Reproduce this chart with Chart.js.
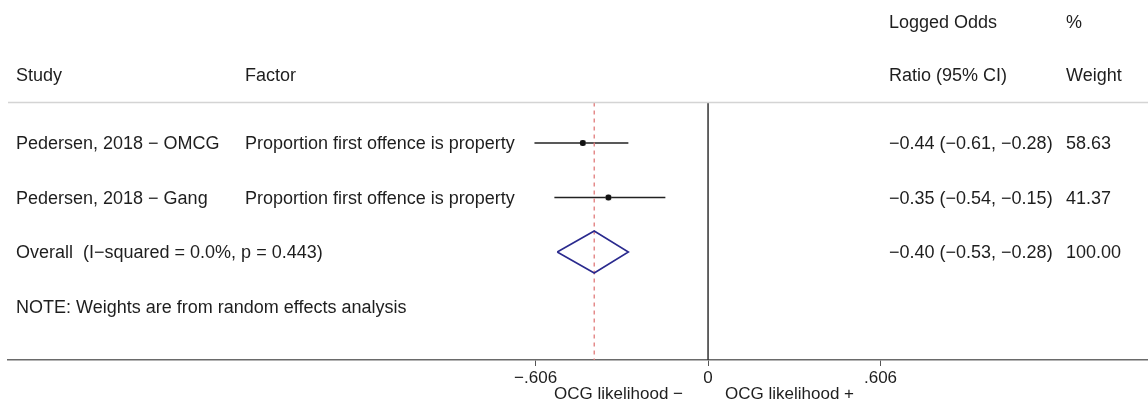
<!DOCTYPE html>
<html>
<head>
<meta charset="utf-8">
<script src="https://cdn.jsdelivr.net/npm/chart.js@4.4.1/dist/chart.umd.min.js"></script>
<style>
  body { margin: 0; background: #fff; }
</style>
</head>
<body>
<canvas id="forest" width="1148" height="403"></canvas>
<script>
// study rows
var studies = ["Pedersen, 2018 \u2212 OMCG", "Pedersen, 2018 \u2212 Gang"];
var factors = ["Proportion first offence is property", "Proportion first offence is property"];
var estimates = [-0.44, -0.35];
var lower = [-0.61, -0.54];
var upper = [-0.28, -0.15];
var weights = [58.63, 41.37];

// pooled result
var overallLabel = "Overall  (I\u2212squared = 0.0%, p = 0.443)";
var overallEst = -0.40, overallLow = -0.53, overallHigh = -0.28, overallWeight = 100.00;
var note = "NOTE: Weights are from random effects analysis";

// x axis
var tickValues = [-0.606, 0, 0.606];
var tickLabels = ["\u2212.606", "0", ".606"];
var axisCaptions = ["OCG likelihood \u2212", "OCG likelihood +"];

// row positions (y units, reversed scale)
var rowOf = [1, 2];
var overallRow = 3, noteRow = 4, sepRow = 0.257;

var FONT = "'Liberation Sans', Arial, sans-serif";
var TXT = "#1e1e1e";

function fmt(v) {
  return (v < 0 ? "\u2212" : "") + Math.abs(v).toFixed(2);
}

var datasets = [];
// line of no effect and pooled estimate line
datasets.push({
  data: [{x: 0, y: sepRow}, {x: 0, y: 4.982}],
  showLine: true, borderColor: "#333", borderWidth: 1.5, pointRadius: 0, order: 3
});
datasets.push({
  data: [{x: overallEst, y: sepRow}, {x: overallEst, y: 4.982}],
  showLine: true, borderColor: "#e07a7a", borderWidth: 1.3, borderDash: [4, 4], pointRadius: 0, order: 2
});
// CI lines
for (var i = 0; i < studies.length; i++) {
  datasets.push({
    data: [{x: lower[i], y: rowOf[i]}, {x: upper[i], y: rowOf[i]}],
    showLine: true, borderColor: "#222", borderWidth: 1.6, pointRadius: 0, order: 2
  });
}
// weight boxes + point estimates
datasets.push({
  data: estimates.map(function (v, i) { return {x: v, y: rowOf[i]}; }),
  pointStyle: "rect", pointRadius: 4, backgroundColor: "#bdbdbd", borderWidth: 0, order: 1
});
datasets.push({
  data: estimates.map(function (v, i) { return {x: v, y: rowOf[i]}; }),
  pointStyle: "circle", pointRadius: 3, backgroundColor: "#111", borderWidth: 0, order: 0
});
// diamond
var dh = 0.385;
datasets.push({
  data: [
    {x: overallLow, y: overallRow}, {x: overallEst, y: overallRow - dh},
    {x: overallHigh, y: overallRow}, {x: overallEst, y: overallRow + dh},
    {x: overallLow, y: overallRow}
  ],
  showLine: true, borderColor: "#2a2a8e", borderWidth: 1.6, pointRadius: 0, tension: 0, order: 1
});

var textPlugin = {
  id: "forestText",
  afterDatasetsDraw: function (chart) {
    var ctx = chart.ctx, xs = chart.scales.x, ys = chart.scales.y, area = chart.chartArea;
    ctx.save();
    // header separator
    ctx.strokeStyle = "#d4d4d4";
    ctx.lineWidth = 1.5;
    ctx.beginPath();
    ctx.moveTo(area.left, ys.getPixelForValue(sepRow));
    ctx.lineTo(area.right, ys.getPixelForValue(sepRow));
    ctx.stroke();

    ctx.fillStyle = TXT;
    ctx.textBaseline = "alphabetic";
    ctx.textAlign = "left";
    ctx.font = "18px " + FONT;
    // headers
    ctx.fillText("Logged Odds", 889, 28);
    ctx.fillText("%", 1066, 28);
    ctx.fillText("Study", 16, 81);
    ctx.fillText("Factor", 245, 81);
    ctx.fillText("Ratio (95% CI)", 889, 81);
    ctx.fillText("Weight", 1066, 81);

    for (var i = 0; i < studies.length; i++) {
      var y = ys.getPixelForValue(rowOf[i]) + 6.5;
      ctx.fillText(studies[i], 16, y);
      ctx.fillText(factors[i], 245, y);
      ctx.fillText(fmt(estimates[i]) + " (" + fmt(lower[i]) + ", " + fmt(upper[i]) + ")", 889, y);
      ctx.fillText(weights[i].toFixed(2), 1066, y);
    }
    var yo = ys.getPixelForValue(overallRow) + 6.5;
    ctx.fillText(overallLabel, 16, yo);
    ctx.fillText(fmt(overallEst) + " (" + fmt(overallLow) + ", " + fmt(overallHigh) + ")", 889, yo);
    ctx.fillText(overallWeight.toFixed(2), 1066, yo);
    ctx.fillText(note, 16, ys.getPixelForValue(noteRow) + 6.5);

    // axis captions
    ctx.font = "17px " + FONT;
    var x0 = xs.getPixelForValue(0);
    ctx.textAlign = "right";
    ctx.fillText(axisCaptions[0], x0 - 25, 399);
    ctx.textAlign = "left";
    ctx.fillText(axisCaptions[1], x0 + 17, 399);
    ctx.restore();
  }
};

new Chart(document.getElementById("forest"), {
  type: "scatter",
  data: {datasets: datasets},
  options: {
    responsive: false,
    animation: false,
    layout: {autoPadding: false, padding: {left: 8, right: 0, top: 0, bottom: 0}},
    plugins: {legend: {display: false}, tooltip: {enabled: false}},
    scales: {
      x: {
        type: "linear",
        min: -2.46,
        max: 1.546,
        afterBuildTicks: function (s) {
          s.ticks = tickValues.map(function (v) { return {value: v}; });
        },
        afterFit: function (s) { s.height = 43; },
        ticks: {
          autoSkip: false,
          maxRotation: 0,
          padding: 2,
          color: TXT,
          font: {family: FONT, size: 17},
          callback: function (v, i) { return tickLabels[i]; }
        },
        grid: {drawOnChartArea: false, drawTicks: true, tickLength: 6, color: "#555"},
        border: {color: "#6a6a6a", width: 1.5}
      },
      y: {
        type: "linear",
        display: false,
        reverse: true,
        min: -1.624,
        max: 4.982
      }
    }
  },
  plugins: [textPlugin]
});
</script>
</body>
</html>
